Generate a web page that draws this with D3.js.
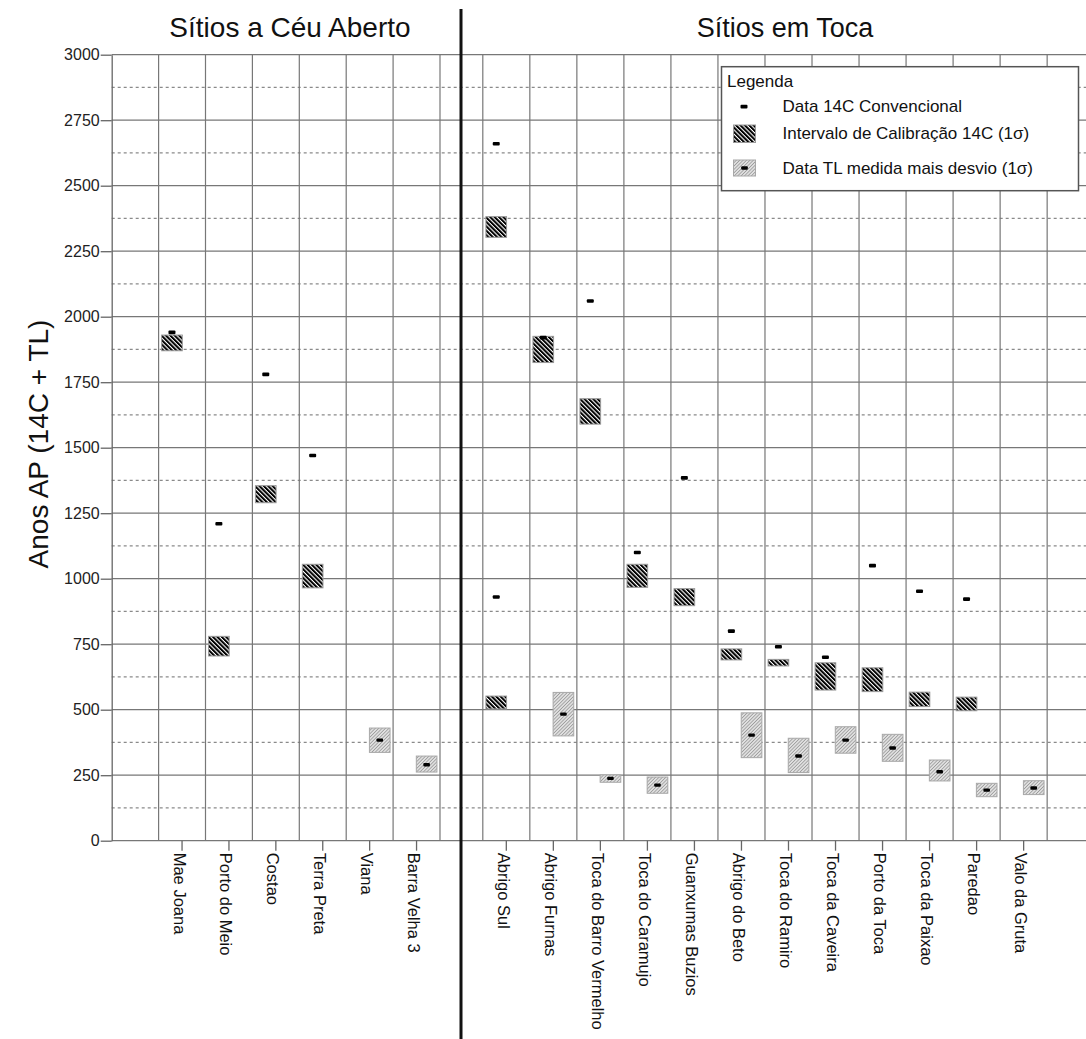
<!DOCTYPE html>
<html>
<head>
<meta charset="utf-8">
<script src="https://cdn.jsdelivr.net/npm/d3@7"></script>
<style>
  body { margin: 0; background: #fff; }
  svg { display: block; font-family: "Liberation Sans", Arial, sans-serif; }
</style>
</head>
<body>
<svg id="chart" width="1086" height="1039"></svg>
<script>
// Sites grouped by context
const leftSites = ["Mae Joana", "Porto do Meio", "Costao", "Terra Preta", "Viana", "Barra Velha 3"];
const rightSites = ["Abrigo Sul", "Abrigo Furnas", "Toca do Barro Vermelho", "Toca do Caramujo",
  "Guanxumas Buzios", "Abrigo do Beto", "Toca do Ramiro", "Toca da Caveira", "Porto da Toca",
  "Toca da Paixao", "Paredao", "Valo da Gruta"];

// Conventional 14C dates (anos AP)
const c14Site = ["Mae Joana", "Porto do Meio", "Costao", "Terra Preta", "Abrigo Sul", "Abrigo Sul",
  "Abrigo Furnas", "Toca do Barro Vermelho", "Toca do Caramujo", "Guanxumas Buzios", "Abrigo do Beto",
  "Toca do Ramiro", "Toca da Caveira", "Porto da Toca", "Toca da Paixao", "Paredao"];
const c14Date = [1940, 1210, 1780, 1470, 2660, 930, 1920, 2060, 1100, 1385, 800, 740, 700, 1050, 952, 922];

// 14C calibration intervals (1 sigma), same order as c14Site
const calLow  = [1870, 705, 1290, 965, 2303, 503, 1825, 1590, 967, 897, 690, 667, 575, 569, 512, 496];
const calHigh = [1930, 780, 1355, 1055, 2382, 552, 1925, 1687, 1055, 962, 732, 692, 679, 660, 567, 548];

// TL dates with 1 sigma deviation
const tlSite = ["Viana", "Barra Velha 3", "Abrigo Furnas", "Toca do Barro Vermelho", "Toca do Caramujo",
  "Abrigo do Beto", "Toca do Ramiro", "Toca da Caveira", "Porto da Toca", "Toca da Paixao", "Paredao", "Valo da Gruta"];
const tlDate = [384, 290, 483, 238, 212, 403, 323, 384, 354, 263, 193, 201];
const tlLow  = [337, 262, 400, 223, 181, 317, 260, 334, 303, 228, 168, 176];
const tlHigh = [430, 323, 566, 251, 243, 488, 391, 435, 406, 308, 219, 229];

// Axis ticks
const yTicks = [0, 250, 500, 750, 1000, 1250, 1500, 1750, 2000, 2250, 2500, 2750, 3000];
const yMidTicks = [125, 375, 625, 875, 1125, 1375, 1625, 1875, 2125, 2375, 2625, 2875];

const W = 1086, H = 1039;
const svg = d3.select("#chart");

const y = d3.scaleLinear().domain([0, 3000]).range([840.7, 54.7]);
// left panel has an empty leading slot; right panel an empty trailing slot
const xLeft = d3.scaleBand().domain(["", ...leftSites]).range([111.7, 440]).padding(0);
const xRight = d3.scaleBand().domain([...rightSites, " "]).range([482.8, 482.8 + 13 * 47.03]).padding(0);

function cx(site) {
  if (leftSites.includes(site)) return xLeft(site) + xLeft.bandwidth() / 2;
  return xRight(site) + xRight.bandwidth() / 2;
}
const bw = xLeft.bandwidth();
const off = bw * 0.215;
const boxW = bw * 0.44;

// Patterns
const defs = svg.append("defs");
const pc = defs.append("pattern").attr("id", "hatchCal").attr("patternUnits", "userSpaceOnUse")
  .attr("width", 3.1).attr("height", 3.1).attr("patternTransform", "rotate(-45)");
pc.append("rect").attr("width", 3.1).attr("height", 3.1).attr("fill", "#fff");
pc.append("rect").attr("width", 2.0).attr("height", 3.1).attr("fill", "#000");

const pt = defs.append("pattern").attr("id", "hatchTL").attr("patternUnits", "userSpaceOnUse")
  .attr("width", 2.4).attr("height", 2.4).attr("patternTransform", "rotate(45)");
pt.append("rect").attr("width", 2.4).attr("height", 2.4).attr("fill", "#e0e0e0");
pt.append("rect").attr("width", 0.8).attr("height", 2.4).attr("fill", "#9c9c9c");

// Grid
const grid = svg.append("g");
const xStart = xLeft.range()[0];
grid.selectAll("line.mid").data(yMidTicks).join("line")
  .attr("x1", xStart).attr("x2", W).attr("y1", d => y(d)).attr("y2", d => y(d))
  .attr("stroke", "#8a8a8a").attr("stroke-width", 1.2).attr("stroke-dasharray", "3,3");
grid.selectAll("line.major").data(yTicks).join("line")
  .attr("x1", xStart).attr("x2", W).attr("y1", d => y(d)).attr("y2", d => y(d))
  .attr("stroke", "#777").attr("stroke-width", 1.2);

const vLines = [...leftSites.map(s => xLeft(s)), xLeft.range()[1],
  ...rightSites.map(s => xRight(s)), xRight(" ")];
grid.selectAll("line.v").data(vLines).join("line")
  .attr("x1", d => d).attr("x2", d => d).attr("y1", y(3000)).attr("y2", y(0))
  .attr("stroke", "#777").attr("stroke-width", 1.2);

// Y axis
const yAxis = svg.append("g").attr("transform", `translate(${xStart},0)`)
  .call(d3.axisLeft(y).tickValues(yTicks).tickFormat(d3.format("d"))
    .tickSize(11).tickSizeOuter(0).tickPadding(1));
yAxis.select(".domain").attr("stroke", "#666").attr("stroke-width", 1.3);
yAxis.selectAll(".tick line").attr("stroke", "#666").attr("stroke-width", 1.3);
yAxis.selectAll(".tick text").attr("font-size", 16).attr("fill", "#222")
  .attr("font-family", "Liberation Sans, Arial, sans-serif");

// X axes with rotated site labels
function styleX(g) {
  g.select(".domain").remove();
  g.selectAll(".tick line").attr("stroke", "#666").attr("stroke-width", 1.3);
  g.selectAll(".tick text")
    .attr("transform", "rotate(90)")
    .attr("x", 12).attr("y", 8.5).attr("dy", null)
    .style("text-anchor", "start")
    .attr("font-size", 16.5).attr("fill", "#111")
    .attr("font-family", "Liberation Sans, Arial, sans-serif");
}
svg.append("g").attr("transform", `translate(0,${y(0)})`)
  .call(d3.axisBottom(xLeft).tickValues(leftSites).tickSize(10).tickSizeOuter(0)).call(styleX);
svg.append("g").attr("transform", `translate(0,${y(0)})`)
  .call(d3.axisBottom(xRight).tickValues(rightSites).tickSize(10).tickSizeOuter(0)).call(styleX);

// Calibration intervals
const calData = c14Site.map((s, i) => ({ site: s, lo: calLow[i], hi: calHigh[i], date: c14Date[i] }));
svg.append("g").selectAll("rect").data(calData).join("rect")
  .attr("x", d => cx(d.site) - off - boxW / 2).attr("width", boxW)
  .attr("y", d => y(d.hi)).attr("height", d => y(d.lo) - y(d.hi))
  .attr("fill", "url(#hatchCal)").attr("stroke", "#999").attr("stroke-width", 1);

// TL intervals
const tlData = tlSite.map((s, i) => ({ site: s, v: tlDate[i], lo: tlLow[i], hi: tlHigh[i] }));
svg.append("g").selectAll("rect").data(tlData).join("rect")
  .attr("x", d => cx(d.site) + off - boxW / 2).attr("width", boxW)
  .attr("y", d => y(d.hi)).attr("height", d => y(d.lo) - y(d.hi))
  .attr("fill", "url(#hatchTL)").attr("stroke", "#a8a8a8").attr("stroke-width", 1);

// Conventional 14C marks
svg.append("g").selectAll("rect").data(calData).join("rect")
  .attr("x", d => cx(d.site) - off - 3.5).attr("width", 7)
  .attr("y", d => y(d.date) - 1.8).attr("height", 3.6).attr("rx", 1)
  .attr("fill", "#000");

// TL measured marks
svg.append("g").selectAll("rect").data(tlData).join("rect")
  .attr("x", d => cx(d.site) + off - 3.3).attr("width", 6.6)
  .attr("y", d => y(d.v) - 1.7).attr("height", 3.4).attr("rx", 1)
  .attr("fill", "#000");

// Panel titles
svg.append("text").attr("x", 290).attr("y", 37).attr("text-anchor", "middle")
  .attr("font-size", 28).attr("fill", "#111").text("Sítios a Céu Aberto");
svg.append("text").attr("x", 785).attr("y", 37).attr("text-anchor", "middle")
  .attr("font-size", 27).attr("fill", "#111").text("Sítios em Toca");

// Y axis title
svg.append("text").attr("transform", "translate(48,444) rotate(-90)").attr("text-anchor", "middle")
  .attr("font-size", 28).attr("fill", "#111").text("Anos AP (14C + TL)");

// Divider between the two panels
svg.append("line").attr("x1", 461).attr("x2", 461).attr("y1", 9).attr("y2", H)
  .attr("stroke", "#111").attr("stroke-width", 3);

// Legend
const lg = svg.append("g");
lg.append("rect").attr("x", 721.5).attr("y", 66.7).attr("width", 357).attr("height", 124)
  .attr("fill", "#fff").attr("stroke", "#555").attr("stroke-width", 1.5);
lg.append("text").attr("x", 727).attr("y", 86.5).attr("font-size", 17).attr("fill", "#111").text("Legenda");
lg.append("rect").attr("x", 740.5).attr("y", 104.8).attr("width", 7).attr("height", 3.6).attr("rx", 1).attr("fill", "#000");
lg.append("text").attr("x", 782.5).attr("y", 111.5).attr("font-size", 17).attr("fill", "#111").text("Data 14C Convencional");
lg.append("rect").attr("x", 733.5).attr("y", 125).attr("width", 22).attr("height", 17.5)
  .attr("fill", "url(#hatchCal)").attr("stroke", "#999");
lg.append("text").attr("x", 782.5).attr("y", 138.5).attr("font-size", 17).attr("fill", "#111").text("Intervalo de Calibração 14C (1σ)");
lg.append("rect").attr("x", 733.5).attr("y", 160).attr("width", 22).attr("height", 16)
  .attr("fill", "url(#hatchTL)").attr("stroke", "#a8a8a8");
lg.append("rect").attr("x", 741.2).attr("y", 166.3).attr("width", 6.6).attr("height", 3.4).attr("rx", 1).attr("fill", "#000");
lg.append("text").attr("x", 782.5).attr("y", 173.5).attr("font-size", 17).attr("fill", "#111").text("Data TL medida mais desvio (1σ)");
</script>
</body>
</html>
